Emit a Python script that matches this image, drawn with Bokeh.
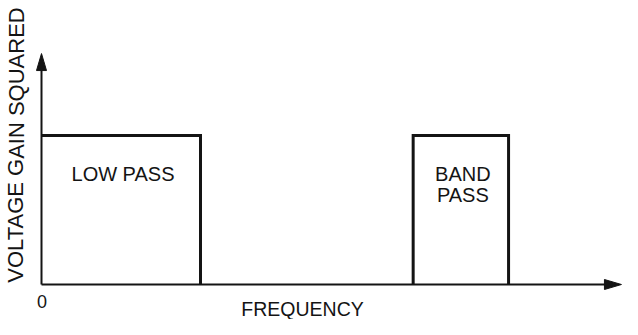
from bokeh.plotting import figure
from bokeh.models import Range1d, Label
from bokeh.embed import file_html
from bokeh.resources import INLINE

# ---- data (frequency in arbitrary units, gain squared normalised) ----
freq_axis_end = 14.59          # end of frequency axis (arrow tip)
gain_axis_end = 1.55           # end of gain axis (arrow tip)
lowpass_edges = [0.0, 4.0]     # low-pass passband
bandpass_edges = [9.35, 11.75] # band-pass passband
passband_gain = 1.0
origin_label = "0"
x_title = "FREQUENCY"
y_title = "VOLTAGE GAIN SQUARED"
lowpass_label = ["LOW PASS"]
bandpass_label = ["BAND", "PASS"]

# ---- layout ----
W, H = 622, 319
px_x = 39.75    # pixels per frequency unit
px_y = 149.0    # pixels per gain unit
origin_px_x = 41
origin_px_y = 35  # from bottom

x_range = Range1d(-origin_px_x / px_x, (W - origin_px_x) / px_x)
y_range = Range1d(-origin_px_y / px_y, (H - origin_px_y) / px_y)

p = figure(width=W, height=H, x_range=x_range, y_range=y_range,
           output_backend="svg", toolbar_location=None,
           x_axis_type=None, y_axis_type=None, min_border=0)
p.grid.visible = False
p.outline_line_color = None
p.background_fill_color = "white"
p.border_fill_color = "white"

INK = "#141414"
FONT = "Liberation Sans"

# axes lines
p.line([0, freq_axis_end - 14 / px_x], [0, 0], line_color=INK, line_width=2)
p.line([0, 0], [0, gain_axis_end - 14 / px_y], line_color=INK, line_width=2)

# arrow heads (computed from axis ends)
hl, hw = 17, 10
p.patch([freq_axis_end, freq_axis_end - hl / px_x, freq_axis_end - hl / px_x],
        [0, hw / 2 / px_y, -hw / 2 / px_y], color=INK)
p.patch([0, -hw / 2 / px_x, hw / 2 / px_x],
        [gain_axis_end, gain_axis_end - hl / px_y, gain_axis_end - hl / px_y], color=INK)

# low pass response
p.line([lowpass_edges[0], lowpass_edges[1], lowpass_edges[1]],
       [passband_gain, passband_gain, 0], line_color=INK, line_width=3,
       line_join="miter")
# band pass response
p.line([bandpass_edges[0], bandpass_edges[0], bandpass_edges[1], bandpass_edges[1]],
       [0, passband_gain, passband_gain, 0], line_color=INK, line_width=3,
       line_join="miter")

# text (positioned at cap-height centre)
def lab(x, y, text, size, angle=0.0):
    p.add_layout(Label(x=x, y=y, text=text, text_font=FONT,
                       text_font_size=size, text_color=INK, angle=angle,
                       text_align="center", text_baseline="middle"))

lp_cx = (lowpass_edges[0] + lowpass_edges[1]) / 2
bp_cx = (bandpass_edges[0] + bandpass_edges[1]) / 2
lab(lp_cx + 2 / px_x, 110.5 / px_y, lowpass_label[0], "20px")
for i, t in enumerate(bandpass_label):
    lab(bp_cx + 2 / px_x, (110.5 - 21 * i) / px_y, t, "20px")

lab(0.5 / px_x, -17 / px_y, origin_label, "18px")
lab(261 / px_x, -24.5 / px_y, x_title, "19.5px")
lab(-25.5 / px_x, 139.5 / px_y, y_title, "22px", angle=1.5707963)

open("out.html", "w").write(file_html(p, INLINE))
